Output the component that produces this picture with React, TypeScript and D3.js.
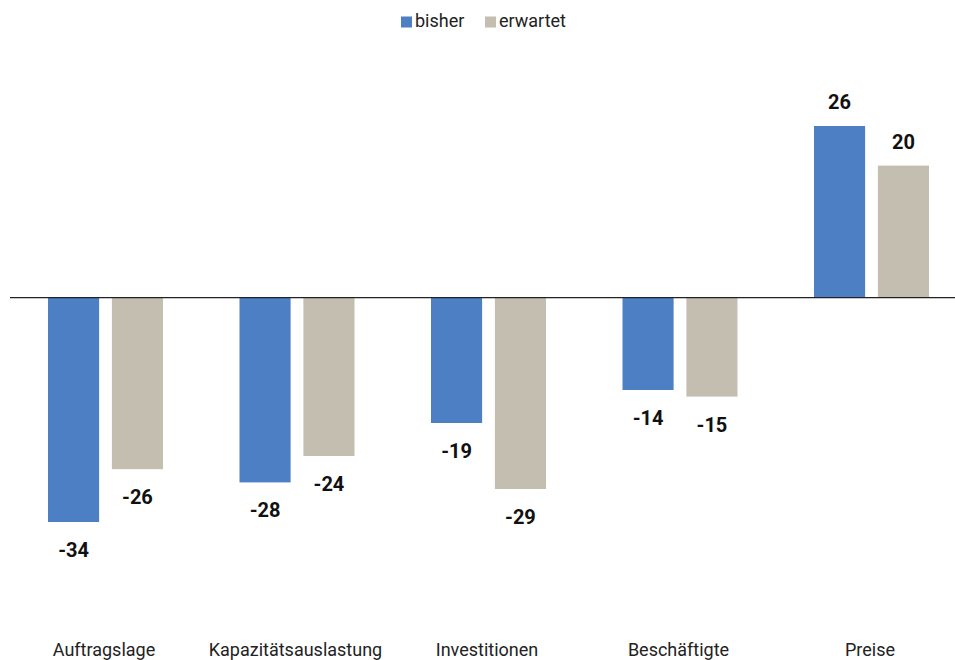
import React from "react";
import * as d3 from "d3";

const categories = ["Auftragslage", "Kapazitätsauslastung", "Investitionen", "Beschäftigte", "Preise"];
const seriesNames = ["bisher", "erwartet"];
const bisher = [-34, -28, -19, -14, 26];
const erwartet = [-26, -24, -29, -15, 20];
const colors = ["#4D7FC4", "#C4BEB1"];

const W = 955;
const H = 660;
const FONT = "Roboto, 'DejaVu Sans', sans-serif";

export default function App() {
  const x0 = d3.scaleBand<string>().domain(categories).range([9.75, 967.25]).paddingInner(0).paddingOuter(0);
  const x1 = d3.scaleBand<string>().domain(seriesNames).range([-57.5, 57.5]).paddingInner(0.2);
  const y = d3.scaleLinear().domain([-34, 26]).range([522, 126]);
  const series = [bisher, erwartet];

  return (
    <div style={{ position: "absolute", left: 0, top: 0 }}>
      <svg width={W} height={H} style={{ display: "block", background: "#fff" }}>
        {categories.map((c, i) => {
          const cx = (x0(c) ?? 0) + x0.bandwidth() / 2;
          return (
            <g key={c}>
              {series.map((s, j) => {
                const v = s[i];
                const bx = cx + (x1(seriesNames[j]) ?? 0);
                const y0 = y(0);
                const yv = y(v);
                const top = Math.min(y0, yv);
                const h = Math.abs(yv - y0);
                const ly = v < 0 ? yv + 35 : yv - 17;
                return (
                  <g key={j}>
                    <rect x={bx} y={top} width={x1.bandwidth()} height={h} fill={colors[j]} />
                    <text x={bx + x1.bandwidth() / 2} y={ly} textAnchor="middle" fontFamily={FONT} fontWeight="bold" fontSize={20} fill="#111">
                      {v}
                    </text>
                  </g>
                );
              })}
              <text x={cx - 1.5} y={656} textAnchor="middle" fontFamily={FONT} fontSize={18} fill="#222">{c}</text>
            </g>
          );
        })}
        <line x1={10} x2={W} y1={y(0)} y2={y(0)} stroke="#222" strokeWidth={1.4} />
        <g>
          <rect x={401} y={16.5} width={11} height={11} fill={colors[0]} />
          <text x={415} y={27} fontFamily={FONT} fontSize={18} fill="#222">{seriesNames[0]}</text>
          <rect x={485} y={16.5} width={11} height={11} fill={colors[1]} />
          <text x={499} y={27} fontFamily={FONT} fontSize={18} fill="#222">{seriesNames[1]}</text>
        </g>
      </svg>
    </div>
  );
}
